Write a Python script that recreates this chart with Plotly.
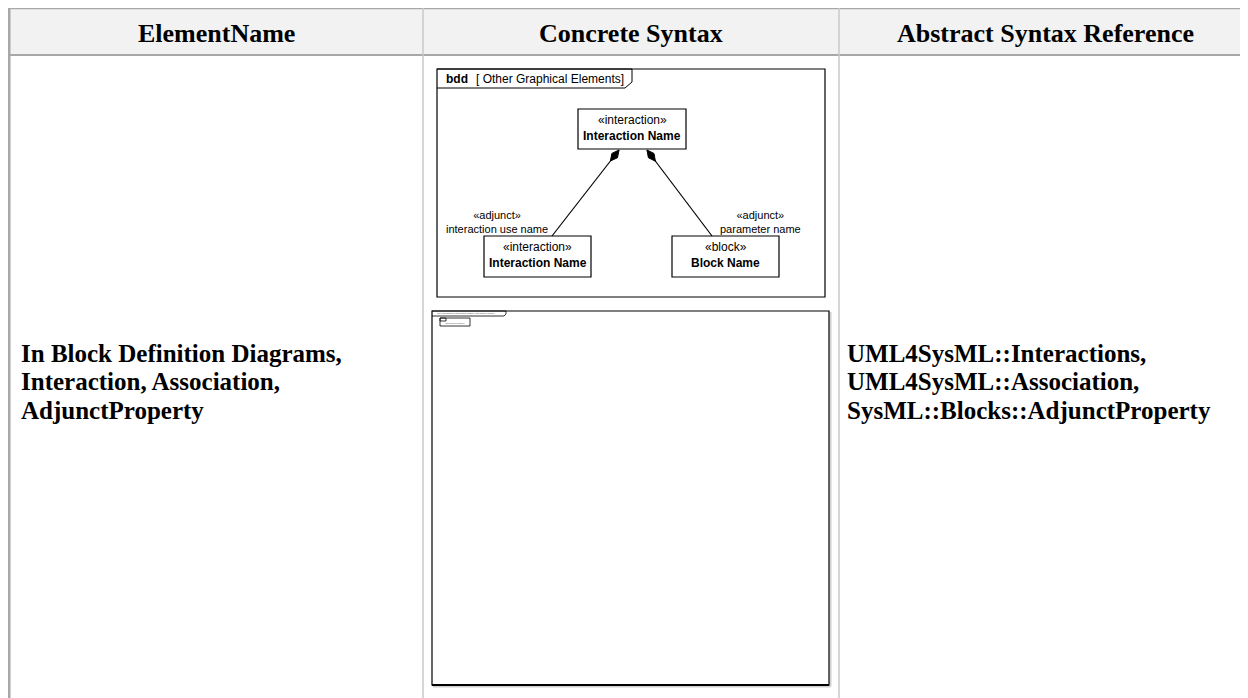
import numpy as np
import plotly.graph_objects as go

# ---------------- data (texts) ----------------
header_labels = ["ElementName", "Concrete Syntax", "Abstract Syntax Reference"]
element_name = ["In Block Definition Diagrams,", "Interaction, Association,", "AdjunctProperty"]
abstract_ref = ["UML4SysML::Interactions,", "UML4SysML::Association,", "SysML::Blocks::AdjunctProperty"]
frame_kind = "bdd"
frame_title = "[ Other Graphical Elements]"
block_stereotypes = ["«interaction»", "«interaction»", "«block»"]
block_names = ["Interaction Name", "Interaction Name", "Block Name"]
end_stereotypes = ["«adjunct»", "«adjunct»"]
end_names = ["interaction use name", "parameter name"]
mini_title = "act [Interaction] Interaction Name[ Interaction Name]"
mini_block = "Interaction Name]"

# ---------------- layout geometry (page pixels) ----------------
W, H = 1248, 698
PAGE_OFF = 8  # default body margin of the html page
col_x = [9, 423, 839]
col_center = [216, 631, 1045]
hdr_top, hdr_bot = 7, 55
grid_col = "#a8a8a8"
body_line_y = [353, 381.5, 410]

frame = dict(x0=437, y0=69, x1=825, y1=297, tab_x=632, tab_y=88)
blocks = [  # x0, y0, x1, y1
    (578, 109, 686, 149),
    (484, 236, 591, 277),
    (672, 236, 779, 277),
]
assoc = [((619, 150), (552, 236)), ((647, 150), (712, 236))]
end_label_pos = [(497, 221.5), (760, 221.5)]
mini = dict(x0=432, y0=311, x1=829, y1=685)

fig = go.Figure()
fig.add_trace(go.Scatter(x=[PAGE_OFF, W], y=[PAGE_OFF, H], mode="markers", marker=dict(opacity=0),
                         hoverinfo="skip", showlegend=False))

shapes = []
ann = []

# header background
shapes.append(dict(type="rect", x0=col_x[0], y0=hdr_top, x1=W + 5, y1=hdr_bot, fillcolor="#f2f2f2", line=dict(width=0), layer="below"))
# top border
shapes.append(dict(type="line", x0=col_x[0] - 1, y0=hdr_top + 1.2, x1=W + 5, y1=hdr_top + 1.2, line=dict(color=grid_col, width=2.2)))
# header bottom
shapes.append(dict(type="line", x0=col_x[0], y0=hdr_bot, x1=W + 5, y1=hdr_bot, line=dict(color=grid_col, width=2)))
# left outer border
shapes.append(dict(type="line", x0=col_x[0], y0=hdr_top, x1=col_x[0], y1=H + 5, line=dict(color=grid_col, width=3)))
# column dividers
for cx in col_x[1:]:
    shapes.append(dict(type="line", x0=cx, y0=hdr_top, x1=cx, y1=H + 5, line=dict(color="#c8c8c8", width=1.5)))

serif = "Liberation Serif, Times New Roman, serif"
sans = "Liberation Sans, Arial, sans-serif"

for lbl, cx in zip(header_labels, col_center):
    ann.append(dict(x=cx, y=33, text="<b>%s</b>" % lbl, showarrow=False, xanchor="center", yanchor="middle",
                    font=dict(family=serif, size=26, color="black")))

for txt, y in zip(element_name, body_line_y):
    ann.append(dict(x=19, y=y, text="<b>%s</b>" % txt, showarrow=False, xanchor="left", yanchor="middle",
                    font=dict(family=serif, size=25, color="black")))
for txt, y in zip(abstract_ref, body_line_y):
    ann.append(dict(x=845, y=y, text="<b>%s</b>" % txt, showarrow=False, xanchor="left", yanchor="middle",
                    font=dict(family=serif, size=25, color="black")))

# ---- bdd frame ----
f = frame
shapes.append(dict(type="rect", x0=f["x0"], y0=f["y0"], x1=f["x1"], y1=f["y1"], line=dict(color="black", width=1.2), fillcolor="white"))
tab_path = "M %d,%d L %d,%d L %d,%d L %d,%d L %d,%d" % (
    f["x0"], f["y0"], f["tab_x"], f["y0"], f["tab_x"], f["tab_y"] - 6, f["tab_x"] - 7, f["tab_y"], f["x0"], f["tab_y"])
shapes.append(dict(type="path", path=tab_path, line=dict(color="black", width=1)))
ann.append(dict(x=f["x0"] + 7, y=(f["y0"] + f["tab_y"]) / 2, text="<b>%s</b>" % frame_kind, showarrow=False, xanchor="left",
                yanchor="middle", font=dict(family=sans, size=12, color="black")))
ann.append(dict(x=f["x0"] + 37, y=(f["y0"] + f["tab_y"]) / 2, text=frame_title, showarrow=False, xanchor="left",
                yanchor="middle", font=dict(family=sans, size=12, color="black")))

for (x0, y0, x1, y1), st, nm in zip(blocks, block_stereotypes, block_names):
    shapes.append(dict(type="rect", x0=x0, y0=y0, x1=x1, y1=y1, line=dict(color="black", width=1.2), fillcolor="white"))
    cx = (x0 + x1) / 2
    ann.append(dict(x=cx, y=y0 + 11, text=st, showarrow=False, xanchor="center", yanchor="middle",
                    font=dict(family=sans, size=12, color="black")))
    ann.append(dict(x=cx, y=y0 + 27, text="<b>%s</b>" % nm, showarrow=False, xanchor="center", yanchor="middle",
                    font=dict(family=sans, size=12, color="black")))

for (p0, p1) in assoc:
    p0 = np.array(p0, float); p1 = np.array(p1, float)
    shapes.append(dict(type="line", x0=p0[0], y0=p0[1], x1=p1[0], y1=p1[1], line=dict(color="black", width=1.2)))
    d = (p1 - p0) / np.linalg.norm(p1 - p0)
    n = np.array([-d[1], d[0]])
    a = p0
    b = p0 + d * 7 + n * 3.5
    c = p0 + d * 14
    e = p0 + d * 7 - n * 3.5
    shapes.append(dict(type="path", path="M %.1f,%.1f L %.1f,%.1f L %.1f,%.1f L %.1f,%.1f Z" % (a[0], a[1], b[0], b[1], c[0], c[1], e[0], e[1]),
                       fillcolor="black", line=dict(color="black", width=1)))

for (x, y), st, nm in zip(end_label_pos, end_stereotypes, end_names):
    ann.append(dict(x=x, y=y, text=st + "<br>" + nm, showarrow=False, xanchor="center", yanchor="middle",
                    align="center", borderpad=0, font=dict(family=sans, size=11, color="black")))

# ---- mini (scaled-down) interaction frame ----
m = mini
shapes.append(dict(type="line", x0=m["x0"] + 1, y0=m["y1"] + 1.5, x1=m["x1"] + 1.5, y1=m["y1"] + 1.5, line=dict(color="#d0d0d0", width=2)))
shapes.append(dict(type="line", x0=m["x1"] + 1.5, y0=m["y0"] + 1, x1=m["x1"] + 1.5, y1=m["y1"] + 1.5, line=dict(color="#d0d0d0", width=2)))
shapes.append(dict(type="rect", x0=m["x0"], y0=m["y0"], x1=m["x1"], y1=m["y1"], line=dict(color="black", width=1.2), fillcolor="white"))
shapes.append(dict(type="line", x0=m["x0"], y0=m["y1"], x1=m["x1"], y1=m["y1"], line=dict(color="black", width=2)))
shapes.append(dict(type="path", path="M %d,%d L %d,%d L %d,%d L %d,%d L %d,%d" % (
    m["x0"], m["y0"], m["x0"] + 74, m["y0"], m["x0"] + 74, m["y0"] + 3, m["x0"] + 72, m["y0"] + 5, m["x0"], m["y0"] + 5),
    line=dict(color="black", width=0.8)))
ann.append(dict(x=m["x0"] + 3, y=m["y0"] + 2.5, text=mini_title, showarrow=False, xanchor="left", yanchor="middle",
                font=dict(family=sans, size=2.5, color="#555")))
shapes.append(dict(type="rect", x0=m["x0"] + 8, y0=m["y0"] + 7, x1=m["x0"] + 38, y1=m["y0"] + 15, line=dict(color="black", width=0.8)))
shapes.append(dict(type="rect", x0=m["x0"] + 8, y0=m["y0"] + 7, x1=m["x0"] + 14, y1=m["y0"] + 10, line=dict(color="black", width=0.8)))
ann.append(dict(x=m["x0"] + 23, y=m["y0"] + 12, text=mini_block, showarrow=False, xanchor="center", yanchor="middle",
                font=dict(family=sans, size=2.5, color="#555")))

fig.update_layout(
    width=W - PAGE_OFF, height=H - PAGE_OFF, margin=dict(l=0, r=0, t=0, b=0),
    paper_bgcolor="white", plot_bgcolor="white",
    xaxis=dict(range=[PAGE_OFF, W], visible=False, fixedrange=True),
    yaxis=dict(range=[H, PAGE_OFF], visible=False, fixedrange=True),
    shapes=shapes, annotations=ann, showlegend=False,
)
fig.write_html("out.html")
